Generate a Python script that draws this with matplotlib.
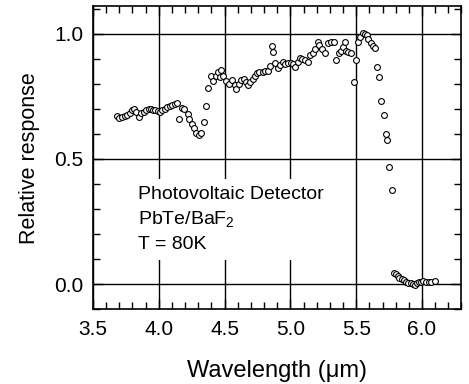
import matplotlib
matplotlib.use("Agg")
import matplotlib.pyplot as plt
from matplotlib.ticker import MultipleLocator

plt.rcParams['font.family'] = ['Liberation Sans', 'DejaVu Sans']
plt.rcParams['mathtext.fontset'] = 'custom'
plt.rcParams['mathtext.rm'] = 'Liberation Sans'

# Spectral response
wavelength = [
    3.682, 3.697, 3.718, 3.741, 3.761, 3.780, 3.800, 3.813, 3.830, 3.851,
    3.868, 3.886, 3.906, 3.924, 3.939, 3.957, 3.975, 3.995, 4.013, 4.028,
    4.046, 4.063, 4.084, 4.104, 4.121, 4.138, 4.158, 4.175, 4.196, 4.220,
    4.234, 4.252, 4.267, 4.285, 4.305, 4.325, 4.346, 4.361, 4.378, 4.399,
    4.409, 4.432, 4.449, 4.462, 4.477, 4.492, 4.513, 4.533, 4.556, 4.576,
    4.589, 4.609, 4.627, 4.647, 4.665, 4.682, 4.697, 4.715, 4.732, 4.748,
    4.765, 4.790, 4.810, 4.828, 4.842, 4.860, 4.872, 4.887, 4.905, 4.925,
    4.943, 4.963, 4.982, 5.003, 5.020, 5.039, 5.058, 5.070, 5.090, 5.108,
    5.133, 5.153, 5.171, 5.189, 5.209, 5.220, 5.238, 5.267, 5.287, 5.306,
    5.330, 5.348, 5.366, 5.381, 5.399, 5.416, 5.425, 5.437, 5.462, 5.480,
    5.497, 5.515, 5.530, 5.551, 5.568, 5.583, 5.593, 5.613, 5.625, 5.644,
    5.657, 5.672, 5.690, 5.708, 5.723, 5.735, 5.753, 5.771,
    5.791, 5.804, 5.816, 5.829, 5.847, 5.862, 5.880, 5.897, 5.913, 5.930,
    5.946, 5.960, 5.976, 5.994, 6.011, 6.032, 6.052, 6.070, 6.095,
]
response = [
    0.671, 0.662, 0.666, 0.670, 0.675, 0.682, 0.695, 0.700, 0.688, 0.668,
    0.682, 0.688, 0.695, 0.701, 0.700, 0.697, 0.694, 0.690, 0.688, 0.695,
    0.701, 0.708, 0.711, 0.714, 0.718, 0.724, 0.660, 0.702, 0.700, 0.680,
    0.658, 0.639, 0.622, 0.605, 0.597, 0.605, 0.648, 0.711, 0.782, 0.832,
    0.811, 0.831, 0.848, 0.828, 0.855, 0.831, 0.811, 0.800, 0.815, 0.797,
    0.778, 0.800, 0.815, 0.821, 0.808, 0.795, 0.808, 0.821, 0.832, 0.842,
    0.845, 0.848, 0.850, 0.850, 0.872, 0.952, 0.925, 0.881, 0.861, 0.875,
    0.888, 0.879, 0.882, 0.882, 0.878, 0.868, 0.885, 0.901, 0.900, 0.893,
    0.888, 0.915, 0.922, 0.937, 0.968, 0.955, 0.940, 0.924, 0.961, 0.968,
    0.965, 0.895, 0.921, 0.930, 0.945, 0.968, 0.930, 0.925, 0.921, 0.806,
    0.895, 0.968, 0.988, 1.004, 1.000, 0.993, 0.980, 0.962, 0.950, 0.941,
    0.866, 0.828, 0.732, 0.674, 0.600, 0.575, 0.466, 0.375,
    0.043, 0.040, 0.032, 0.025, 0.020, 0.015, 0.009, 0.005, 0.003, 0.000,
    -0.003, 0.004, 0.008, 0.009, 0.011, 0.009, 0.009, 0.009, 0.012,
]

x_major = [3.5, 4.0, 4.5, 5.0, 5.5, 6.0]
y_major = [0.0, 0.5, 1.0]

fig = plt.figure(figsize=(4.69, 3.84), dpi=100)
ax = fig.add_axes([0.198, 0.195, 0.786, 0.789])

ax.plot(wavelength, response, linestyle='none', marker='o', markersize=4.2,
        markerfacecolor='white', markeredgecolor='black', markeredgewidth=0.8,
        zorder=2)

ax.set_xlim(3.5, 6.3)
ax.set_ylim(-0.1, 1.11)
ax.set_xticks(x_major)
ax.set_xticklabels(['%.1f' % v for v in x_major])
ax.set_yticks(y_major)
ax.set_yticklabels(['%.1f' % v for v in y_major])
ax.xaxis.set_minor_locator(MultipleLocator(0.1))
ax.yaxis.set_minor_locator(MultipleLocator(0.1))

ax.set_axisbelow(True)
ax.grid(True, which='major', color='black', linewidth=1.0)
ax.tick_params(which='both', direction='in', top=True, right=True,
               labelsize=15, width=1.0, color='black')
ax.tick_params(which='major', length=7)
ax.tick_params(which='minor', length=5)
ax.tick_params(axis='x', pad=8)
ax.tick_params(axis='y', pad=7)
for s in ax.spines.values():
    s.set_linewidth(1.2)

ax.set_xlabel('Wavelength (\u03bcm)', fontsize=17, labelpad=15)
ax.set_ylabel('Relative response', fontsize=15.5, labelpad=10)

ax.text(3.842, 0.39, 'Photovoltaic Detector\nPbTe/BaF$_2$\nT = 80K',
        fontsize=14, va='top', ha='left', linespacing=1.45,
        bbox=dict(facecolor='white', edgecolor='none', pad=5), zorder=3)

fig.savefig('out.png', dpi=100)
